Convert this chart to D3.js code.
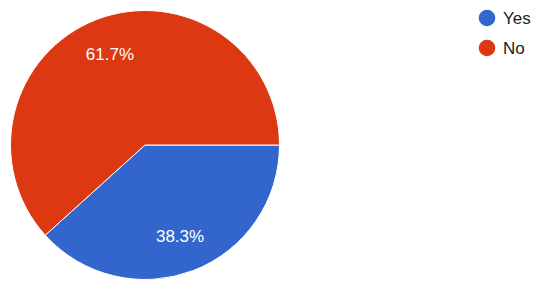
<!DOCTYPE html>
<html>
<head>
  <meta charset="utf-8">
  <title>Pie</title>
  <style>
    body { margin: 0; background: white; font-family: Arial, "Liberation Sans", sans-serif; }
    .slice-label { font-size: 17px; fill: white; text-anchor: middle; }
    .legend text { font-size: 17px; fill: #222; }
  </style>
  <script src="https://d3js.org/d3.v7.min.js"></script>
</head>
<body>
  <div id="chart"></div>
  <script>
    // Answers and their shares
    const categories = ["Yes", "No"];
    const shares = [38.3, 61.7];
    const colors = ["#3366CC", "#DC3912"];

    const width = 544, height = 289;
    const cx = 145, cy = 145, radius = 134.5;

    const svg = d3.select("#chart")
      .append("svg")
        .attr("width", width)
        .attr("height", height);

    const data = categories.map((c, i) => ({ name: c, value: shares[i], color: colors[i] }));

    // start at 3 o'clock, go clockwise
    const pie = d3.pie()
      .sort(null)
      .value(d => d.value)
      .startAngle(Math.PI / 2)
      .endAngle(Math.PI / 2 + 2 * Math.PI);

    const arc = d3.arc().innerRadius(0).outerRadius(radius);
    const labelArc = d3.arc().innerRadius(97.5).outerRadius(97.5);

    const g = svg.append("g").attr("transform", `translate(${cx},${cy})`);

    const arcs = pie(data);

    g.selectAll("path")
      .data(arcs)
      .enter().append("path")
        .attr("d", arc)
        .attr("fill", d => d.data.color)
        .attr("stroke", "white")
        .attr("stroke-width", 1);

    g.selectAll(".slice-label")
      .data(arcs)
      .enter().append("text")
        .attr("class", "slice-label")
        .attr("transform", d => `translate(${labelArc.centroid(d)})`)
        .attr("dy", "0.36em")
        .text(d => d.data.value.toFixed(1) + "%");

    // Legend
    const legend = svg.selectAll(".legend")
      .data(data)
      .enter().append("g")
        .attr("class", "legend")
        .attr("transform", (d, i) => `translate(487,${18 + i * 30})`);

    legend.append("circle")
      .attr("r", 8.3)
      .attr("fill", d => d.color);

    legend.append("text")
      .attr("x", 16)
      .attr("dy", "0.36em")
      .text(d => d.name);
  </script>
</body>
</html>
